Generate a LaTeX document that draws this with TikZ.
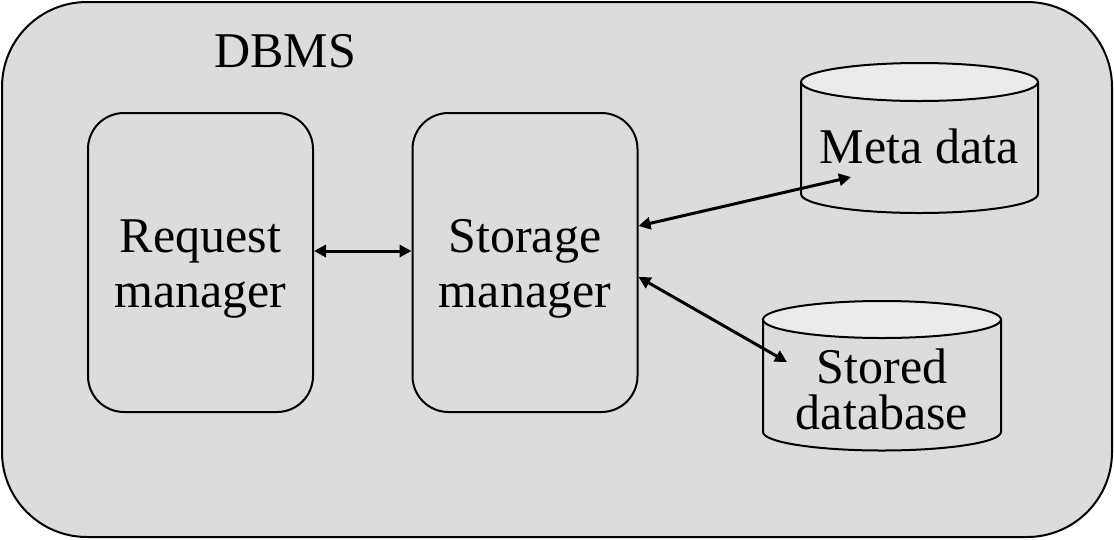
\documentclass[tikz,border=0pt]{standalone}
\usepackage{fontspec}
\setmainfont{Liberation Serif}
\usetikzlibrary{arrows.meta}
\definecolor{bg}{HTML}{DCDCDC}
\definecolor{cyltop}{HTML}{EBEBEB}
\begin{document}
\begin{tikzpicture}[x=1pt,y=-1pt,
  every node/.style={font=\fontsize{50}{54}\selectfont},
  outer/.style={draw,line width=2pt,fill=bg,rounded corners=85pt,minimum width=1110pt,minimum height=535pt,inner sep=0pt},
  box/.style={draw,line width=2pt,rounded corners=36pt,minimum width=225pt,minimum height=299pt,align=center,inner sep=0pt,font=\fontsize{50}{55}\selectfont,text height=100pt},
  link/.style={line width=3pt,{Triangle[length=12pt,width=12pt]}-{Triangle[length=12pt,width=12pt]}},
  cyl/.style={draw,line width=2pt}]
\useasboundingbox (0,0) rectangle (1114,539);
\node[outer] (dbms) at (557,269.5) {};
\node[anchor=base] (dbmslabel) at (285,67) {DBMS};
\node[box] (req) at (200.5,262.5) {Request\\manager};
\node[box] (sto) at (525,262.5) {Storage\\manager};
% Meta data cylinder
\path[cyl,fill=bg] (801,82) -- (801,194) arc[start angle=180,end angle=0,x radius=118.5,y radius=19] -- (1038,82);
\draw[line width=2pt,fill=cyltop] (919.5,82) ellipse[x radius=118.5,y radius=19];
\node[anchor=base] (meta) at (919,163) {Meta data};
\coordinate (metain) at (851,177);
% Stored database cylinder
\path[cyl,fill=bg] (763,319.5) -- (763,432) arc[start angle=180,end angle=0,x radius=119,y radius=18.5] -- (1001,319.5);
\draw[line width=2pt,fill=cyltop] (882,319.5) ellipse[x radius=119,y radius=18.5];
\node[align=center,font=\fontsize{50}{46}\selectfont] (sdb) at (882,389) {Stored\\database};
\coordinate (sdbin) at (787,362);
% connectors
\draw[link] (req.east |- 0,251) -- (sto.west |- 0,251);
\draw[link] (sto.east |- 0,226) -- (metain);
\draw[link] (sto.east |- 0,277) -- (sdbin);
\end{tikzpicture}
\end{document}
